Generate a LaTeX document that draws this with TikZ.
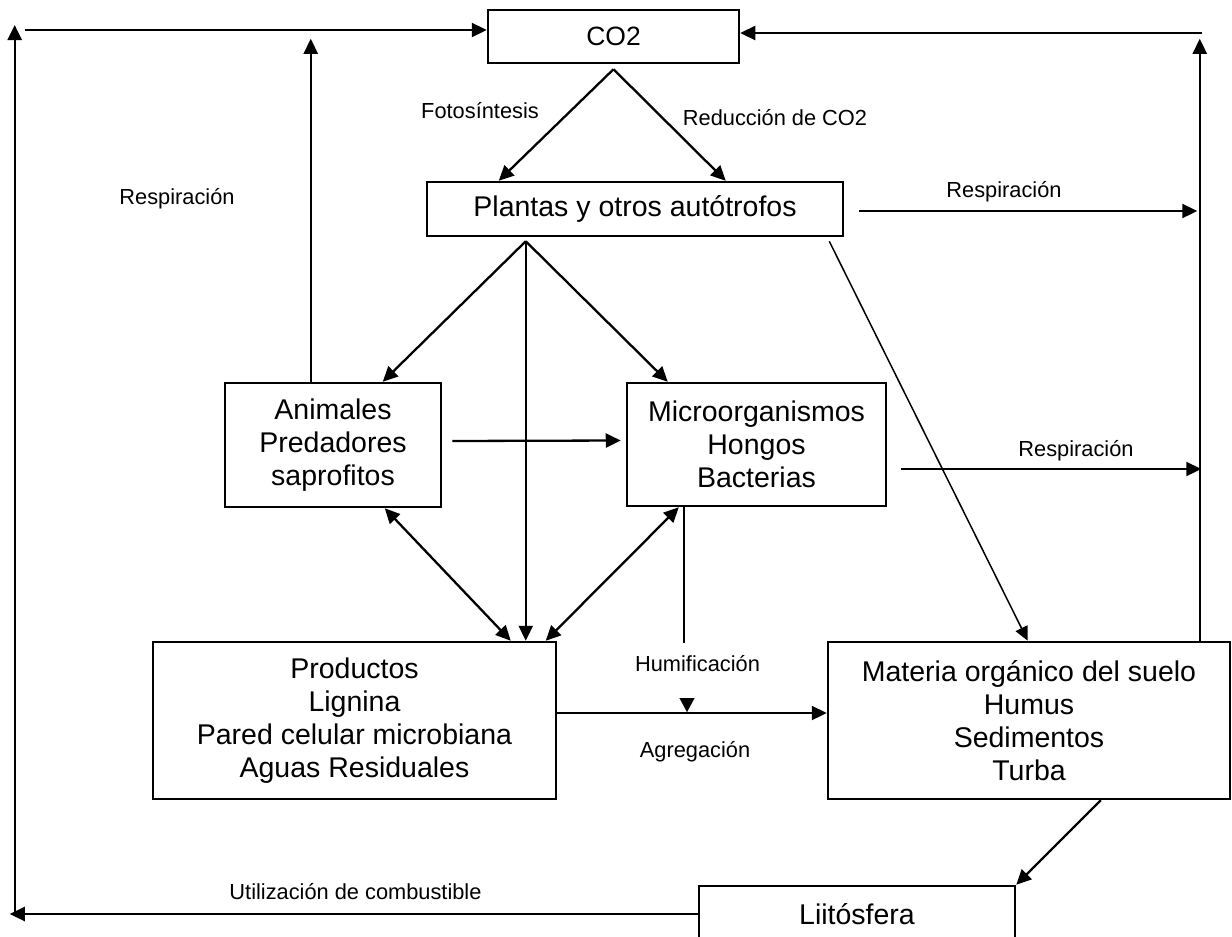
\documentclass[tikz,border=0pt]{standalone}
\usepackage{fontspec}
\setmainfont{Liberation Sans}
\usetikzlibrary{arrows.meta,calc}
\begin{document}
\begin{tikzpicture}[x=1pt,y=-1pt,
 box/.style={draw, line width=2.5pt, inner sep=0pt, align=center, font=\fontsize{28.5}{33}\selectfont},
 lbl/.style={font=\fontsize{21.8}{26}\selectfont, inner sep=0pt, anchor=base},
 arr/.style={line width=2.3pt, -{Triangle[length=15pt,width=14pt]}},
 darr/.style={line width=2.3pt, {Triangle[length=15pt,width=14pt]}-{Triangle[length=15pt,width=14pt]}},
 tarr/.style={line width=1.5pt, -{Triangle[length=14pt,width=13pt]}},
 ln/.style={line width=2.3pt}]
\useasboundingbox (0,0) rectangle (1232,937);
\clip (0,0) rectangle (1232,937);

% boxes
\node[box, minimum width=251pt, minimum height=53pt, font=\fontsize{26.5}{30}\selectfont] (co2) at (613.5,36.5) {CO2};
\node[box, minimum width=416pt, minimum height=54pt] (pl) at (635,209) {Plantas y otros autótrofos};
\node[box, minimum width=216pt, minimum height=124pt] (an) at (333,445) {Animales\\Predadores\\saprofitos};
\node[box, minimum width=259pt, minimum height=123pt] (mi) at (756.5,444.5) {Microorganismos\\Hongos\\Bacterias};
\node[box, minimum width=403pt, minimum height=157pt] (pr) at (354.5,720.5) {Productos\\Lignina\\Pared celular microbiana\\Aguas Residuales};
\node[box, minimum width=402pt, minimum height=157pt] (ma) at (1029,720.5) {Materia orgánico del suelo\\Humus\\Sedimentos\\Turba};
\node[box, minimum width=316pt, minimum height=56pt] (li) at (857,914) {Liitósfera};

% CO2 -> Plantas
\coordinate (cA) at ($(co2.south)+(0,5)$);
\draw[arr] (cA) -- ($(pl.north west)+(73,0)$);
\draw[arr] (cA) -- ($(pl.north west)+(300,0)$);

% Plantas -> Animales, Micro, Productos
\coordinate (pA) at ($(pl.south west)+(100,4)$);
\draw[arr] (pA) -- ($(an.north west)+(159,0)$);
\draw[arr] (pA) -- ($(mi.north west)+(42,0)$);
\draw[arr] (pA) -- (pA |- pr.north);

% double arrows
\draw[darr] ($(an.south west)+(161,0)$) -- ($(pr.north west)+(359,0)$);
\draw[darr] ($(mi.south west)+(53,0)$) -- ($(pr.north west)+(394,0)$);

% Animales -> Micro
\draw[arr] ($(an.east)+(10,-4)$) -- ($(mi.west)+(-5,-4)$);

% right side
\coordinate (rt) at (1202,33);
\draw[arr] (rt) -- (rt -| co2.east);
\draw[arr] ($(ma.north west)+(373,0)$) -- ++(0,-602);
\draw[arr] ($(pl.east)+(15,2)$) -- ++(338,0);
\draw[arr] ($(mi.east)+(14,24.5)$) -- ++(300,0);

% left side
\coordinate (lt) at (25,30);
\draw[arr] (lt) -- (lt -| co2.west);
\draw[arr] ($(an.north west)+(87,0)$) -- ++(0,-343);
\coordinate (bl) at (14.7,914);
\draw[arr] (li.west) -- ++(-688,0);
\draw[arr] (bl) -- ++(0,-889);

% Materia -> Liitosfera
\draw[arr] ($(ma.south west)+(274,0)$) -- (li.north east);

% Plantas -> Materia (thin)
\draw[tarr] ($(pl.south east)+(-15,4)$) -- ($(ma.north west)+(201,0)$);

% Humificacion / Agregacion
\draw[ln] ($(mi.south west)+(58,0)$) -- ++(0,136);
\draw[arr] ($(pr.east)+(0,-7.5)$) -- ($(ma.west)+(0,-7.5)$);
\coordinate (hS) at (687,698);
\coordinate (hT) at (687,712);
\draw[line width=0.1pt, -{Triangle[length=14pt,width=15pt]}] (hS) -- (hT);

% labels
\node[lbl] (l1) at (480,118) {Fotosíntesis};
\node[lbl] (l2) at (775,125) {Reducción de CO2};
\node[lbl] (l3) at (177,204) {Respiración};
\node[lbl] (l4) at (1004,197) {Respiración};
\node[lbl] (l5) at (1076,456) {Respiración};
\node[lbl] (l6) at (697.5,671) {Humificación};
\node[lbl] (l7) at (695,757) {Agregación};
\node[lbl] (l8) at (355.5,899) {Utilización de combustible};
\end{tikzpicture}
\end{document}
